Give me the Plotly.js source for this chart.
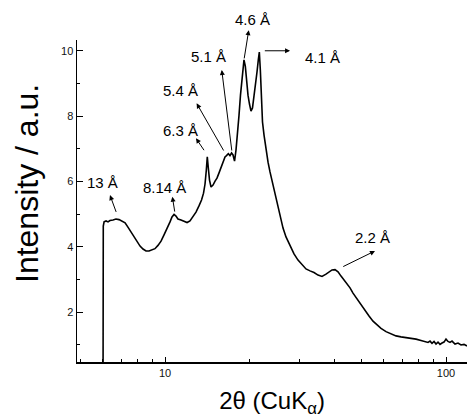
<!DOCTYPE html>
<html>
<head>
<meta charset="utf-8">
<script src="https://cdn.plot.ly/plotly-3.0.1.min.js"></script>
<style>html,body{margin:0;padding:0;background:#fff;}#chart{width:467px;height:418px;}</style>
</head>
<body>
<div id="chart"></div>
<script>
// 2θ (degrees, CuKα)
var twoTheta = [6.02, 6.03, 6.07, 6.17, 6.27, 6.37, 6.53, 6.69, 6.86, 7.03, 7.21, 7.38, 7.57, 7.76, 7.95, 8.15, 8.35, 8.56, 8.77, 8.99, 9.21, 9.44, 9.68, 9.92, 10.16, 10.42, 10.59, 10.77, 10.94, 11.12, 11.40, 11.68, 11.98, 12.27, 12.58, 12.89, 13.21, 13.49, 13.71, 13.88, 14.03, 14.14, 14.26, 14.40, 14.58, 14.82, 15.07, 15.31, 15.57, 15.83, 16.09, 16.35, 16.55, 16.80, 17.03, 17.25, 17.46, 17.68, 17.89, 18.11, 18.34, 18.56, 18.79, 18.95, 19.10, 19.31, 19.50, 19.74, 19.98, 20.23, 20.48, 20.73, 20.99, 21.25, 21.48, 21.66, 21.84, 22.02, 22.23, 22.51, 22.88, 23.26, 23.64, 24.03, 24.43, 24.83, 25.24, 25.66, 26.30, 26.95, 27.86, 28.78, 29.74, 30.73, 31.75, 32.81, 33.90, 35.03, 36.20, 37.41, 38.34, 39.30, 40.27, 41.28, 42.30, 43.35, 44.44, 45.54, 46.67, 48.23, 49.83, 51.49, 53.21, 54.98, 56.81, 58.71, 61.16, 63.72, 66.39, 69.16, 72.06, 75.06, 78.21, 81.48, 84.20, 86.29, 87.72, 89.17, 90.65, 92.14, 93.65, 95.19, 96.78, 98.37, 100.0, 101.65, 103.32, 105.05, 107.65, 110.33, 113.07, 115.88, 118.76];
// Intensity (a.u.)
var intensity = [0.3, 4.63, 4.76, 4.79, 4.76, 4.80, 4.82, 4.85, 4.83, 4.79, 4.73, 4.60, 4.45, 4.30, 4.14, 4.02, 3.93, 3.87, 3.87, 3.90, 3.94, 4.04, 4.17, 4.36, 4.54, 4.76, 4.91, 4.99, 4.94, 4.85, 4.82, 4.77, 4.74, 4.79, 4.91, 5.06, 5.25, 5.43, 5.64, 5.92, 6.35, 6.75, 6.41, 6.04, 5.83, 5.89, 6.01, 6.10, 6.26, 6.41, 6.59, 6.75, 6.79, 6.85, 6.79, 6.87, 6.81, 6.62, 6.96, 7.42, 8.03, 8.64, 9.17, 9.53, 9.72, 9.53, 9.10, 8.64, 8.37, 8.15, 8.25, 8.58, 8.95, 9.35, 9.72, 9.96, 9.41, 8.49, 7.82, 7.42, 6.96, 6.59, 6.29, 6.01, 5.74, 5.49, 5.25, 4.97, 4.57, 4.30, 4.02, 3.78, 3.59, 3.44, 3.32, 3.26, 3.21, 3.13, 3.09, 3.16, 3.23, 3.29, 3.30, 3.23, 3.10, 2.98, 2.86, 2.74, 2.58, 2.40, 2.21, 2.03, 1.88, 1.72, 1.60, 1.50, 1.40, 1.33, 1.27, 1.24, 1.22, 1.19, 1.17, 1.13, 1.10, 1.07, 1.11, 1.04, 1.10, 1.02, 1.08, 1.01, 1.05, 1.08, 1.17, 1.10, 1.07, 1.11, 1.02, 1.05, 0.99, 1.01, 0.96];

// Peak labels (d-spacings)
var peakLabels = ['13 Å', '8.14 Å', '6.3 Å', '5.4 Å', '5.1 Å', '4.6 Å', '4.1 Å', '2.2 Å'];
// label centres [2θ, intensity]
var labelX = [5.99, 9.94, 11.37, 11.37, 14.32, 20.53, 36.20, 54.55];
var labelY = [5.97, 5.80, 7.57, 8.79, 9.83, 10.95, 9.80, 4.27];
// arrow tail (on curve) and head [2θ, intensity]
var tailX = [6.73, 10.85, 13.88, 16.28, 17.31, 19.10, 22.38, 42.55];
var tailY = [5.02, 5.03, 6.91, 6.90, 6.90, 9.72, 10.00, 3.37];
var headX = [6.37, 10.62, 12.89, 12.96, 15.92, 19.86, 27.86, 55.88];
var headY = [5.58, 5.53, 7.32, 8.39, 9.41, 10.63, 10.00, 3.87];

var X0 = 0.6868, X1 = 2.0747, Y0 = 0.47, Y1 = 10.33;
var PLOT_W = 390, PLOT_H = 322;
function paperY(v) { return (v - Y0) / (Y1 - Y0); }

var annotations = [];
for (var i = 0; i < peakLabels.length; i++) {
  // arrow: head at the label end; y in paper units so heads above the axis top stay visible
  annotations.push({
    x: Math.log10(headX[i]), y: paperY(headY[i]), xref: 'x', yref: 'paper',
    ax: (Math.log10(tailX[i]) - Math.log10(headX[i])) * PLOT_W / (X1 - X0),
    ay: -(paperY(tailY[i]) - paperY(headY[i])) * PLOT_H,
    axref: 'pixel', ayref: 'pixel',
    text: '', showarrow: true, arrowhead: 2, arrowsize: 1, arrowwidth: 1,
    arrowcolor: '#000', standoff: 0, startstandoff: 0
  });
  annotations.push({
    x: Math.log10(labelX[i]), y: paperY(labelY[i]), xref: 'x', yref: 'paper',
    text: peakLabels[i], showarrow: false, xanchor: 'center', yanchor: 'middle',
    font: {family: 'Liberation Sans, Arial, sans-serif', size: 15, color: '#000'}
  });
}
annotations.push({
  x: -0.128, y: 0.553, xref: 'paper', yref: 'paper', text: 'Intensity / a.u.',
  textangle: -90, showarrow: false, xanchor: 'center', yanchor: 'middle',
  font: {family: 'Liberation Sans, Arial, sans-serif', size: 32, color: '#000'}
});

var trace = {
  x: twoTheta, y: intensity, type: 'scatter', mode: 'lines',
  line: {color: '#000', width: 1.6}, hoverinfo: 'skip'
};

var layout = {
  width: 467, height: 418,
  margin: {l: 77, r: 0, t: 40, b: 56, pad: 0},
  paper_bgcolor: '#fff', plot_bgcolor: '#fff',
  showlegend: false,
  font: {family: 'Liberation Sans, Arial, sans-serif', color: '#000'},
  xaxis: {
    type: 'log', range: [X0, X1], dtick: 1,
    showline: true, linecolor: '#000', linewidth: 1.5, mirror: false,
    showgrid: false, zeroline: false,
    ticks: 'inside', ticklen: 5, tickwidth: 1, tickcolor: '#000',
    tickfont: {size: 11, color: '#111'},
    minor: {dtick: 'D1', ticks: 'inside', ticklen: 3, tickwidth: 1, tickcolor: '#000', showgrid: false},
    title: {text: '2θ (CuK<sub>α</sub>)', font: {size: 24, color: '#000'}, standoff: 14}
  },
  yaxis: {
    range: [Y0, Y1], tick0: 0, dtick: 2,
    showline: true, linecolor: '#000', linewidth: 1.5, mirror: false,
    showgrid: false, zeroline: false,
    ticks: 'inside', ticklen: 6, tickwidth: 1, tickcolor: '#000',
    tickfont: {size: 11, color: '#111'},
    minor: {dtick: 1, ticks: 'inside', ticklen: 3, tickwidth: 1, tickcolor: '#000', showgrid: false}
  },
  annotations: annotations
};

Plotly.newPlot('chart', [trace], layout, {staticPlot: true, displayModeBar: false});
</script>
</body>
</html>
